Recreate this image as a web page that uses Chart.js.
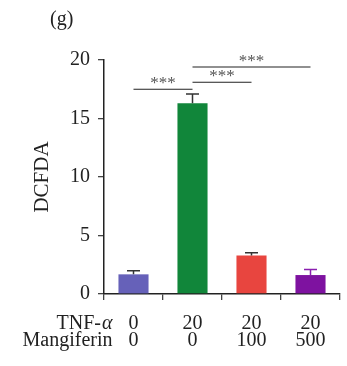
<!DOCTYPE html>
<html lang="en">
<head>
<meta charset="UTF-8">
<title>DCFDA</title>
<script src="https://cdn.jsdelivr.net/npm/chart.js@4.4.0/dist/chart.umd.min.js"></script>
<style>
  body { margin: 0; background: #fff; }
  #wrap { width: 347px; height: 366px; }
</style>
</head>
<body>
<div id="wrap"><canvas id="c" width="347" height="366"></canvas></div>
<script>
// data
const tnfAlpha = ['0', '20', '20', '20'];
const mangiferin = ['0', '0', '100', '500'];
const means = [1.68, 16.3, 3.3, 1.62];
const errors = [0.3, 0.8, 0.23, 0.48];
const barColors = ['#6661b9', '#11863a', '#e8453f', '#7e12a0'];
const errColors = ['#333333', '#333333', '#333333', '#8a1fb0'];
const yTicks = [0, 5, 10, 15, 20];
// significance brackets: [from index, to index, height]
const brackets = [[0, 1, 17.5], [1, 2, 18.1], [1, 3, 19.4]];

const SERIF = '"Liberation Serif", "DejaVu Serif", serif';
const ink = '#222222';
const FS = 20;
const LH = 17;

const extras = {
  id: 'extras',
  afterDatasetsDraw(chart) {
    const ctx = chart.ctx;
    const x = chart.scales.x, y = chart.scales.y;
    const meta = chart.getDatasetMeta(0);
    ctx.save();
    // error bars (upper only)
    means.forEach((m, i) => {
      const bx = meta.data[i].x;
      const top = y.getPixelForValue(m + errors[i]);
      const base = y.getPixelForValue(m);
      ctx.strokeStyle = errColors[i];
      ctx.lineWidth = 1.5;
      ctx.beginPath();
      ctx.moveTo(bx, base);
      ctx.lineTo(bx, top);
      ctx.moveTo(bx - 6.5, top);
      ctx.lineTo(bx + 6.5, top);
      ctx.stroke();
    });
    // significance lines
    ctx.strokeStyle = ink;
    ctx.lineWidth = 1.2;
    ctx.fillStyle = '#555';
    ctx.font = '17px ' + SERIF;
    ctx.textAlign = 'center';
    ctx.textBaseline = 'alphabetic';
    brackets.forEach(([a, b, h]) => {
      const x1 = x.getPixelForValue(a);
      const x2 = x.getPixelForValue(b);
      const py = y.getPixelForValue(h);
      ctx.beginPath();
      ctx.moveTo(x1, py);
      ctx.lineTo(x2, py);
      ctx.stroke();
      ctx.fillText('***', (x1 + x2) / 2, py - 1);
    });
    ctx.restore();
  },
  afterDraw(chart) {
    const ctx = chart.ctx;
    const x = chart.scales.x;
    ctx.save();
    ctx.fillStyle = ink;
    ctx.font = FS + 'px ' + SERIF;
    ctx.textAlign = 'right';
    ctx.textBaseline = 'middle';
    const row0 = x.top + 6 + 15 + LH / 2;
    const hx = x.getPixelForValue(0) - 21;
    ctx.fillText('Mangiferin', hx, row0 + LH);
    // TNF-α with italic alpha
    ctx.font = 'italic ' + FS + 'px ' + SERIF;
    const aw = ctx.measureText('α').width;
    ctx.fillText('α', hx, row0);
    ctx.font = FS + 'px ' + SERIF;
    ctx.fillText('TNF-', hx - aw - 1, row0);
    // panel letter
    ctx.textAlign = 'left';
    ctx.fillText('(g)', 50, 20);
    ctx.restore();
  }
};

new Chart(document.getElementById('c'), {
  type: 'bar',
  data: {
    labels: tnfAlpha.map((t, i) => [t, mangiferin[i]]),
    datasets: [{
      data: means,
      backgroundColor: barColors,
      borderWidth: 0,
      barPercentage: 0.51,
      categoryPercentage: 1
    }]
  },
  options: {
    responsive: false,
    animation: false,
    layout: { padding: { left: 30, right: 7, top: 60, bottom: 0 } },
    plugins: { legend: { display: false }, tooltip: { enabled: false } },
    scales: {
      x: {
        grid: { display: true, drawOnChartArea: false, drawTicks: true, tickLength: 6, color: '#444', lineWidth: 1.3 },
        border: { display: true, color: ink, width: 1.5 },
        ticks: { color: ink, font: { family: SERIF, size: FS, lineHeight: LH / FS }, padding: 15, maxRotation: 0 },
        afterFit(s) { s.height = 72; }
      },
      y: {
        min: 0, max: 20,
        afterBuildTicks(s) { s.ticks = yTicks.map(v => ({ value: v })); },
        grid: { display: true, drawOnChartArea: false, drawTicks: true, tickLength: 6, color: '#444', lineWidth: 1.3 },
        border: { display: true, color: ink, width: 1.5 },
        ticks: { color: ink, font: { family: SERIF, size: FS }, padding: 8 },
        title: { display: true, text: 'DCFDA', color: ink, font: { family: SERIF, size: 21 }, padding: 0 },
        afterFit(s) { s.width = 74; }
      }
    }
  },
  plugins: [extras]
});
</script>
</body>
</html>
